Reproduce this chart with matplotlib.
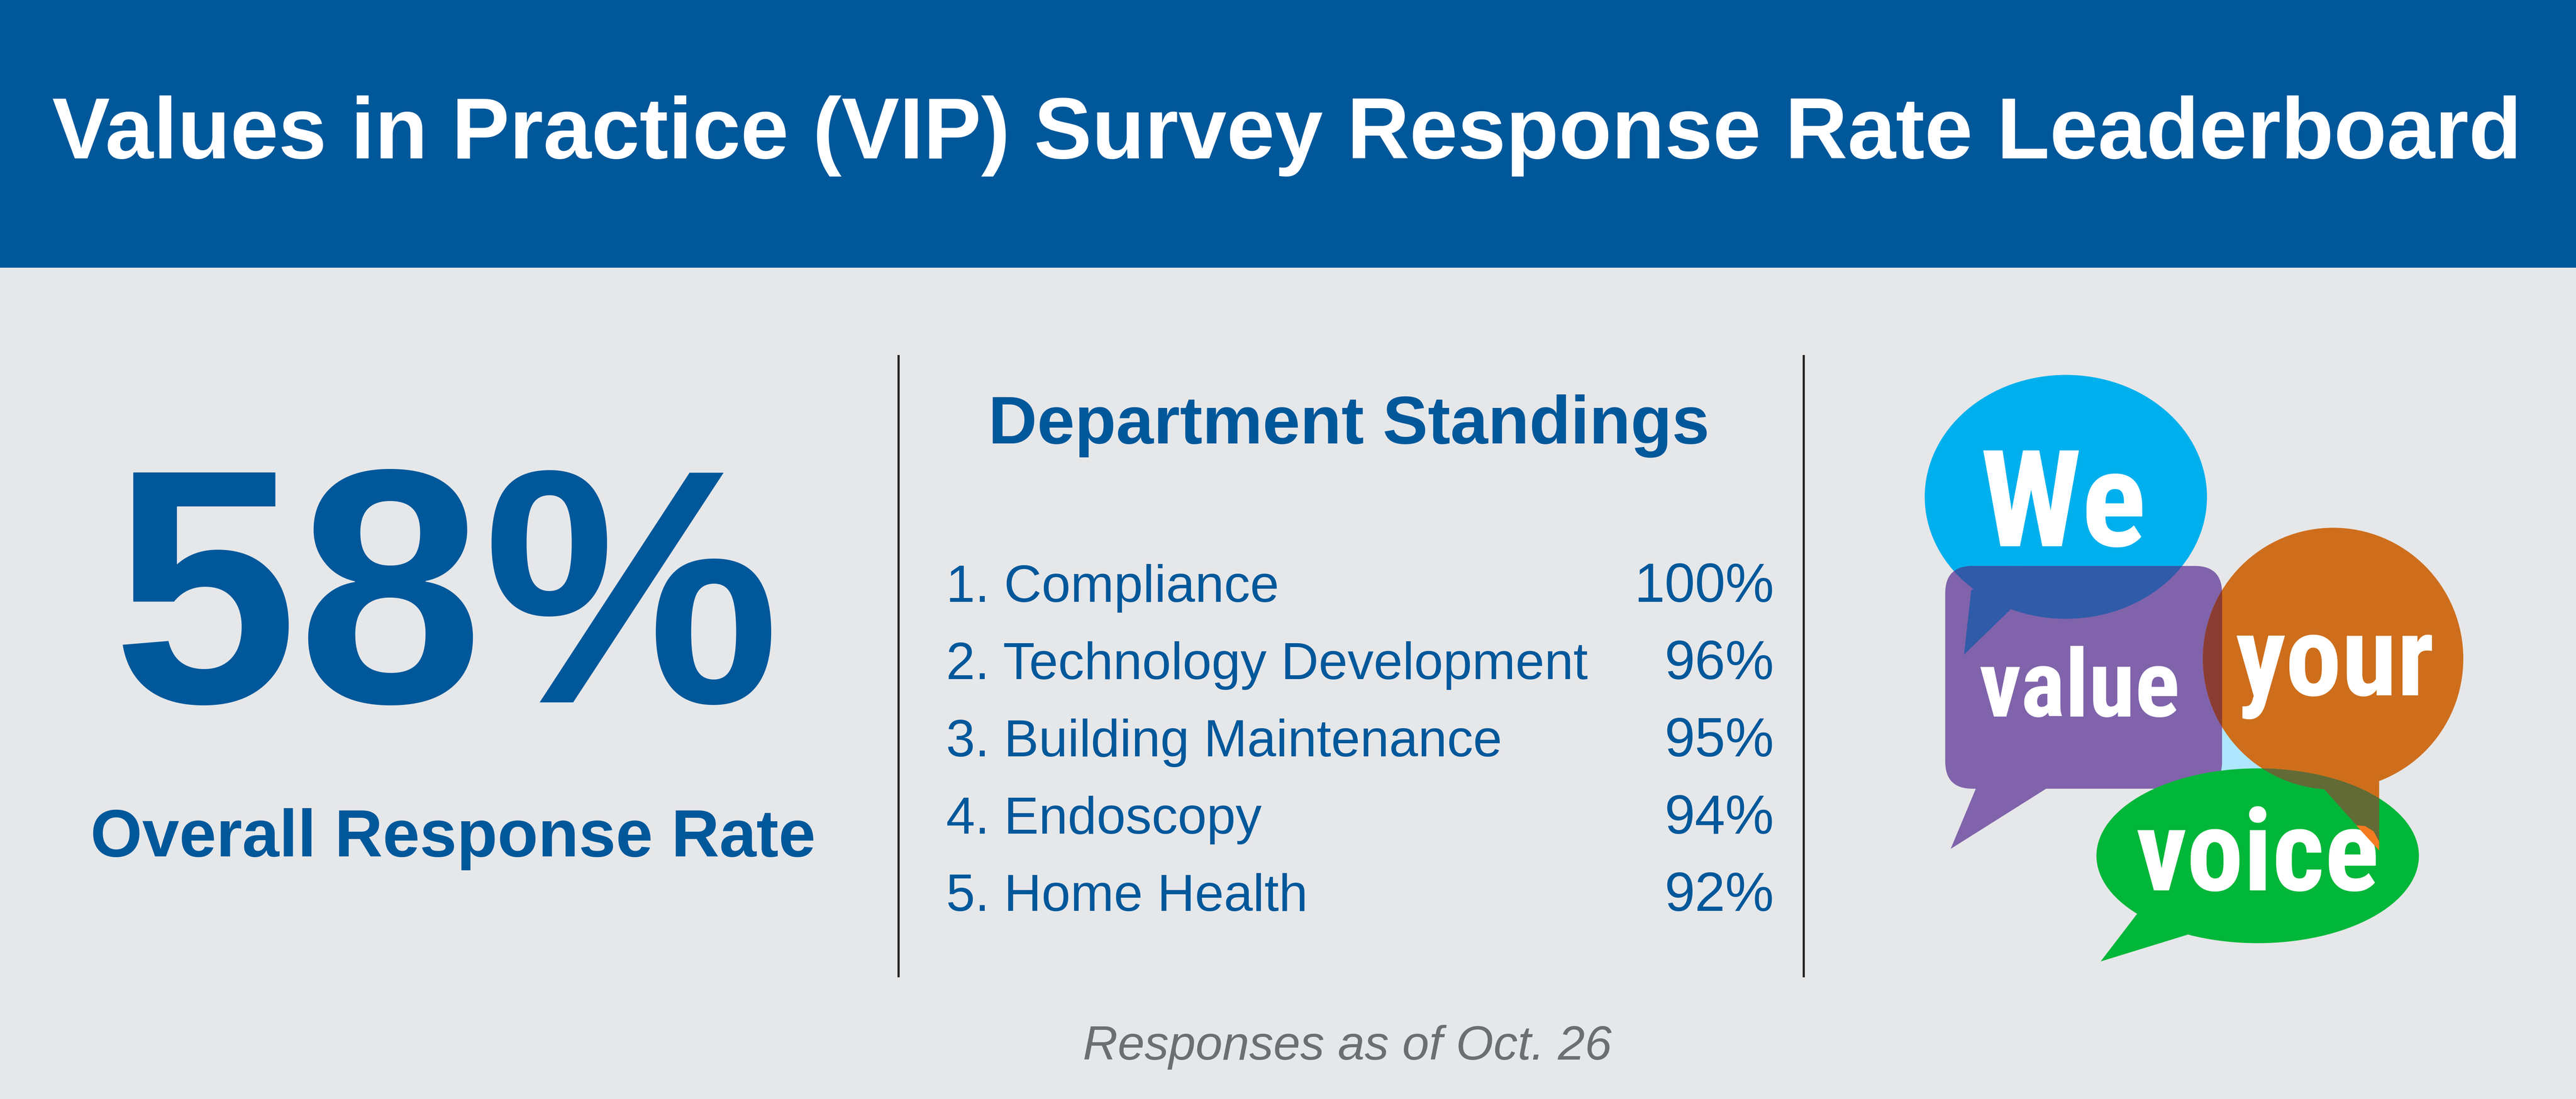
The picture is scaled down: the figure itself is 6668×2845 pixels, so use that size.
import matplotlib
matplotlib.use("Agg")
import matplotlib.pyplot as plt
from matplotlib.patches import Rectangle, Ellipse, Polygon, FancyBboxPatch
from matplotlib import font_manager as fm

TITLE = "Values in Practice (VIP) Survey Response Rate Leaderboard"
OVERALL = 58
OVERALL_LABEL = "Overall Response Rate"
HEADING = "Department Standings"
DEPARTMENTS = ["Compliance", "Technology Development", "Building Maintenance", "Endoscopy", "Home Health"]
RATES = [100, 96, 95, 94, 92]
FOOTNOTE = "Responses as of Oct. 26"
BUBBLE_WORDS = ["We", "value", "your", "voice"]

BLUE = "#00589B"; BG = "#E6E7E9"; GREY = "#6D6E71"
names = {f.name for f in fm.fontManager.ttflist}
SANS = "Liberation Sans"
NARROW = next((n for n in ["Roboto Condensed", "Archivo Narrow", "Sofia Sans Condensed", "Saira SemiCondensed", SANS] if n in names))

W, H = 6668, 2845
fig = plt.figure(figsize=(W / 100, H / 100), dpi=100, facecolor=BG)
ax = fig.add_axes([0, 0, 1, 1])
ax.set_xlim(0, W); ax.set_ylim(H, 0); ax.axis("off")

ax.add_patch(Rectangle((0, 0), W, 693, fc=BLUE, ec="none"))
ax.text(W / 2 - 3, 410, TITLE, color="white", fontsize=161.5, fontweight="bold", family=SANS, ha="center", va="baseline")

ax.text(1155, 1818, f"{OVERALL}%", color=BLUE, fontsize=622, fontweight="bold", family=SANS, ha="center", va="baseline")
ax.text(1173, 2217, OVERALL_LABEL, color=BLUE, fontsize=124, fontweight="bold", family=SANS, ha="center", va="baseline")

for x in (2326, 4669):
    ax.plot([x, x], [919, 2530], color="#231F20", lw=4, solid_capstyle="butt")

ax.text(3491, 1148, HEADING, color=BLUE, fontsize=126, fontweight="bold", family=SANS, ha="center", va="baseline")
for i, (d, r) in enumerate(zip(DEPARTMENTS, RATES)):
    y = 1558 + i * 200
    ax.text(2449, y, f"{i + 1}. {d}", color=BLUE, fontsize=97, family=SANS, ha="left", va="baseline")
    ax.text(4592, y, f"{r}%", color=BLUE, fontsize=102, family=SANS, ha="right", va="baseline")

ax.text(3487, 2743, FOOTNOTE, color=GREY, fontsize=90, style="italic", family=SANS, ha="center", va="baseline")

# speech bubbles: geometry given in a local frame, mapped to figure pixels
SX = 1 / 0.9224
SY = 1 / 0.9503
def X(z): return 4800 + z * SX
def Y(z): return 900 + z * SY
def P(pts): return [(X(a), Y(b)) for a, b in pts]
def ell(cx, cy, rx, ry, **k): return Ellipse((X(cx), Y(cy)), 2 * rx * SX, 2 * ry * SY, ec="none", **k)
def poly(pts, **k): return Polygon(P(pts), closed=True, ec="none", **k)

blue_e = (505, 367, 337, 300); blue_t = [(279, 597), (262, 755), (372, 645), (420, 500)]
or_e = (1143, 765, 311, 322); or_t = [(1118, 1082), (1253, 1237), (1253, 1062), (1180, 1000)]
gr_e = (963, 1250, 385, 215); gr_t = [(675, 1393), (588, 1510), (796, 1444), (760, 1300)]

ax.add_patch(Rectangle((X(870), Y(900)), 130 * SX, 160 * SY, fc="#AEE6FD", ec="none", zorder=2))
ax.add_patch(ell(*blue_e, fc="#00B0EE", zorder=2))
ax.add_patch(poly(blue_t, fc="#00B0EE", zorder=2))
R = 65 * SX
rect = FancyBboxPatch((X(217) + R, Y(537) + R), 661 * SX - 2 * R, 548 * SY - 2 * R,
                      boxstyle=f"round,pad={R},rounding_size={R}", fc="#8063AB", ec="none", zorder=3)
ax.add_patch(rect)
ax.add_patch(poly([(292, 1080), (230, 1233), (458, 1085), (458, 1080)], fc="#8063AB", zorder=3))
for pat in (ell(*blue_e, fc="#2F5BA8", zorder=4), poly(blue_t, fc="#2F5BA8", zorder=4)):
    ax.add_patch(pat); pat.set_clip_path(rect)
ax.add_patch(ell(*or_e, fc="#CE6E1C", zorder=4))
ax.add_patch(poly(or_t, fc="#CE6E1C", zorder=4))
ov = ell(*or_e, fc="#8B3D33", zorder=5); ax.add_patch(ov); ov.set_clip_path(rect)
green = ell(*gr_e, fc="#00B739", zorder=6); ax.add_patch(green)
ax.add_patch(poly(gr_t, fc="#00B739", zorder=6))
for pat in (ell(*or_e, fc="#626A36", zorder=7), poly(or_t, fc="#626A36", zorder=7)):
    ax.add_patch(pat); pat.set_clip_path(green)

kw = dict(color="white", fontweight="bold", family=NARROW, ha="left", va="baseline", zorder=8)
rnd = fig.canvas.get_renderer()
def word(s, x0, x1, base):
    t = ax.text(X(x0), Y(base), s, fontsize=200, **kw)
    w = t.get_window_extent(rnd).width
    t.set_fontsize(200 * (x1 - x0) * SX / w)
word(BUBBLE_WORDS[0], 300, 697, 488)
word(BUBBLE_WORDS[1], 298, 778, 908)
word(BUBBLE_WORDS[2], 910, 1385, 855)
word(BUBBLE_WORDS[3], 672, 1253, 1335)
ax.add_patch(poly([(1198, 1175), (1253, 1237), (1253, 1215), (1240, 1190), (1220, 1177)], fc="#F47B20", zorder=9))

fig.savefig("out.png", dpi=100, facecolor=BG)
